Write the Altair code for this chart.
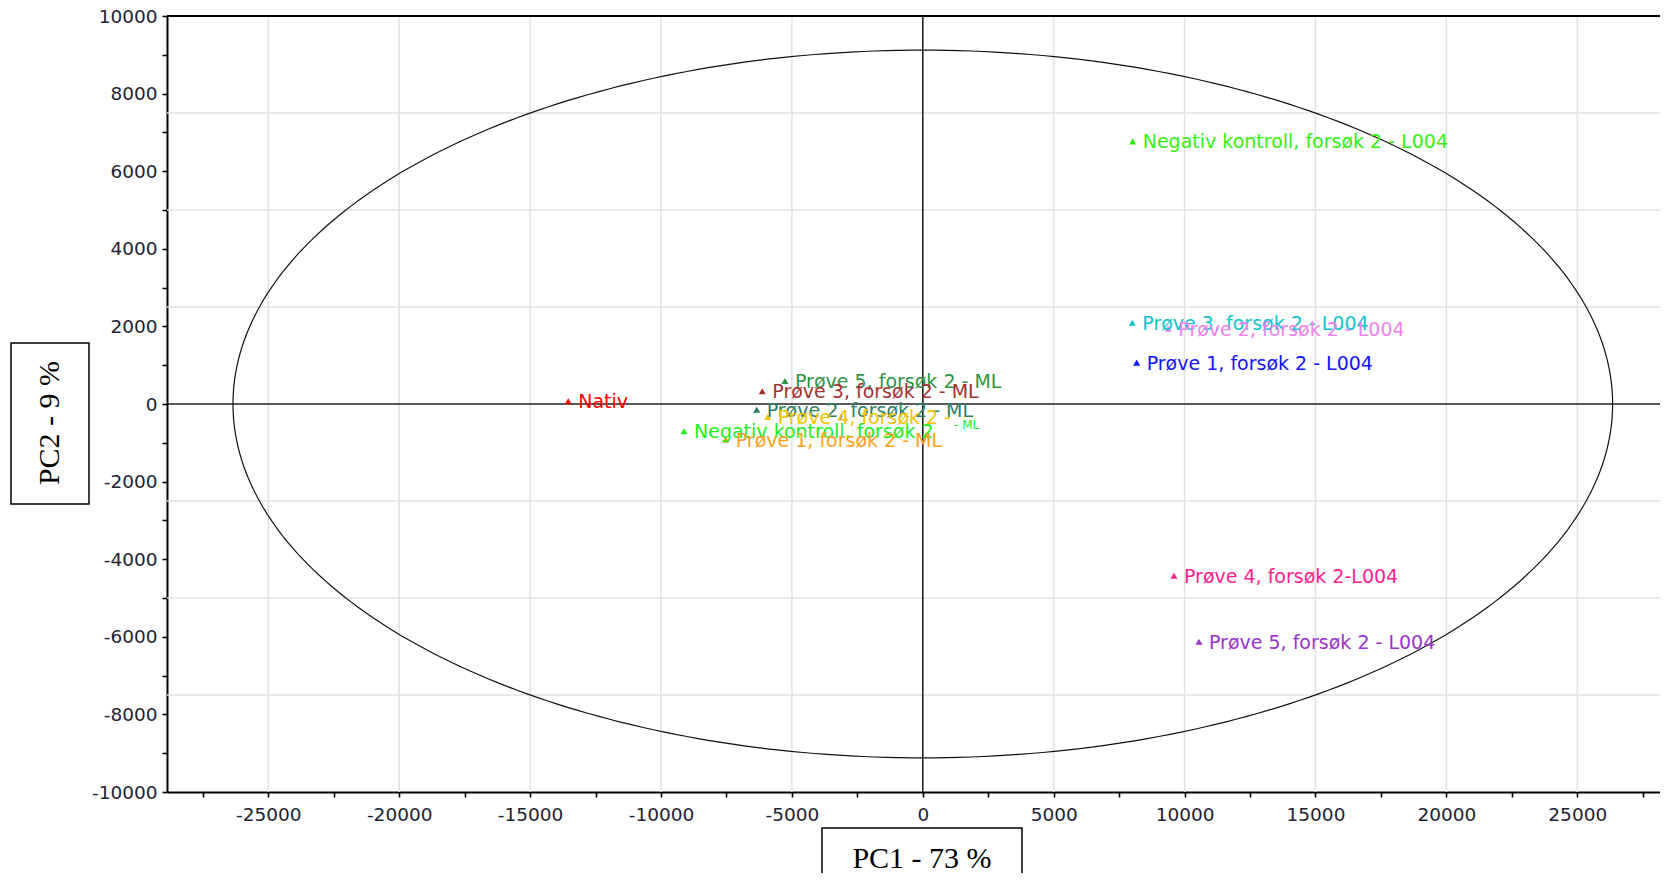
import altair as alt
import numpy as np
import pandas as pd

# ---- data ----
labels = [
    "Nativ",
    "Prøve 5, forsøk 2 - ML",
    "Prøve 3, forsøk 2 - ML",
    "Prøve 2, forsøk 2 - ML",
    "Prøve 4, forsøk 2 -",
    "Negativ kontroll, forsøk 2",
    "Prøve 1, forsøk 2 - ML",
    "Negativ kontroll, forsøk 2 - L004",
    "Prøve 3, forsøk 2 - L004",
    "Prøve 2, forsøk 2 - L004",
    "Prøve 1, forsøk 2 - L004",
    "Prøve 4, forsøk 2-L004",
    "Prøve 5, forsøk 2 - L004",
]
pc1 = [-13545, -5264, -6131, -6345, -5925, -9121, -7529, 8018, 8003, 9378, 8170, 9595, 10550]
pc2 = [70, 592, 327, -144, -335, -703, -917, 6770, 2095, 1940, 1065, -4427, -6126]
colors = ["#ff0000", "#2f9444", "#a33232", "#2f7f66", "#f2c400", "#22f022", "#ffa020",
          "#33f011", "#10c4cc", "#ee82ee", "#1414ff", "#ff2090", "#9933cc"]

# Hotelling ellipse semi-axes
ell_a = 26350
ell_b = 9120

x_ticks = list(range(-27500, 27501, 2500))
y_ticks = list(range(-10000, 10001, 1000))
x_grid = [-25000, -20000, -15000, -10000, -5000, 5000, 10000, 15000, 20000, 25000]
y_grid = [-7500, -5000, -2500, 2500, 5000, 7500]

X_DOMAIN = [-28870, 28160]
Y_DOMAIN = [-10000, 10000]
W, H = 1493, 776

df = pd.DataFrame({"label": labels, "pc1": pc1, "pc2": pc2})
t = np.linspace(0, 2 * np.pi, 361)
ell = pd.DataFrame({"ex": ell_a * np.cos(t), "ey": ell_b * np.sin(t), "o": np.arange(len(t))})

FONT = "DejaVu Sans"

xs = alt.Scale(domain=X_DOMAIN, nice=False, zero=False)
ys = alt.Scale(domain=Y_DOMAIN, nice=False, zero=False)

x_axis = alt.Axis(values=x_ticks, labelExpr="datum.value % 5000 == 0 ? toString(datum.value) : ''",
                  title=None, grid=False, labelFlush=False, labelOverlap=False)
y_axis = alt.Axis(values=y_ticks, labelExpr="datum.value % 2000 == 0 ? toString(datum.value) : ''",
                  title=None, grid=False, labelFlush=False, labelOverlap=False)

base_pts = alt.Chart(df).encode(
    x=alt.X("pc1:Q", scale=xs, axis=x_axis),
    y=alt.Y("pc2:Q", scale=ys, axis=y_axis),
    color=alt.Color("label:N", scale=alt.Scale(domain=labels, range=colors), legend=None),
)

gridx = alt.Chart(pd.DataFrame({"gx": x_grid})).mark_rule(color="#e2e2e2", strokeWidth=1.5).encode(
    x=alt.X("gx:Q", scale=xs, axis=x_axis))
gridy = alt.Chart(pd.DataFrame({"gy": y_grid})).mark_rule(color="#e2e2e2", strokeWidth=1.5).encode(
    y=alt.Y("gy:Q", scale=ys, axis=y_axis))

zero_v = alt.Chart(pd.DataFrame({"z": [0]})).mark_rule(color="#222222", strokeWidth=1.6).encode(
    x=alt.X("z:Q", scale=xs, axis=x_axis))
zero_h = alt.Chart(pd.DataFrame({"z": [0]})).mark_rule(color="#222222", strokeWidth=1.6).encode(
    y=alt.Y("z:Q", scale=ys, axis=y_axis))
top_border = alt.Chart(pd.DataFrame({"z": [10000]})).mark_rule(color="black", strokeWidth=2).encode(
    y=alt.Y("z:Q", scale=ys, axis=y_axis))

ellipse = alt.Chart(ell).mark_line(color="#111111", strokeWidth=1.2).encode(
    x=alt.X("ex:Q", scale=xs, axis=x_axis),
    y=alt.Y("ey:Q", scale=ys, axis=y_axis),
    order="o:Q",
)

points = base_pts.mark_point(shape="triangle-up", filled=True, size=50, opacity=1)
texts = base_pts.mark_text(align="left", baseline="middle", dx=10, dy=1, fontSize=19, font=FONT).encode(
    text="label:N")

# small "- ML" tail of the negative control (ML) label
tail = alt.Chart(df[df["label"] == "Negativ kontroll, forsøk 2"]).mark_text(
    align="left", baseline="middle", dx=270, dy=-6, fontSize=12, font=FONT, color="#22f022"
).encode(x=alt.X("pc1:Q", scale=xs, axis=x_axis), y=alt.Y("pc2:Q", scale=ys, axis=y_axis),
         text=alt.value("- ML"))

# boxed axis titles
xbox = alt.Chart(pd.DataFrame({"k": [0]})).mark_rect(filled=False, stroke="black", strokeWidth=1.5).encode(
    x=alt.value(655), x2=alt.value(855), y=alt.value(812), y2=alt.value(900))
xtitle = alt.Chart(pd.DataFrame({"k": [0]})).mark_text(
    font="Liberation Serif", fontSize=30, color="black", baseline="alphabetic", align="center").encode(
    x=alt.value(755), y=alt.value(852), text=alt.value("PC1 - 73 %"))
ybox = alt.Chart(pd.DataFrame({"k": [0]})).mark_rect(filled=False, stroke="black", strokeWidth=1.5).encode(
    x=alt.value(-156), x2=alt.value(-78), y=alt.value(327), y2=alt.value(488))
ytitle = alt.Chart(pd.DataFrame({"k": [0]})).mark_text(
    font="Liberation Serif", fontSize=30, color="black", baseline="middle", align="center", angle=270).encode(
    x=alt.value(-117), y=alt.value(407), text=alt.value("PC2 - 9 %"))

chart = alt.layer(
    gridx, gridy, zero_v, zero_h, ellipse, top_border, points, texts, tail, xbox, xtitle, ybox, ytitle
).properties(
    width=W, height=H,
    autosize=alt.AutoSizeParams(type="none"),
    padding={"left": 159, "top": 8, "right": 0, "bottom": 81},
).configure_view(stroke=None).configure_axis(
    domainColor="black", domainWidth=2, tickColor="black", tickWidth=1.6, tickSize=5,
    labelFont=FONT, labelFontSize=18.5, labelColor="#222233",
).configure_axisX(labelPadding=8).configure_axisY(labelPadding=5)

chart.save("out.html", embed_options={"renderer": "svg", "actions": False})
